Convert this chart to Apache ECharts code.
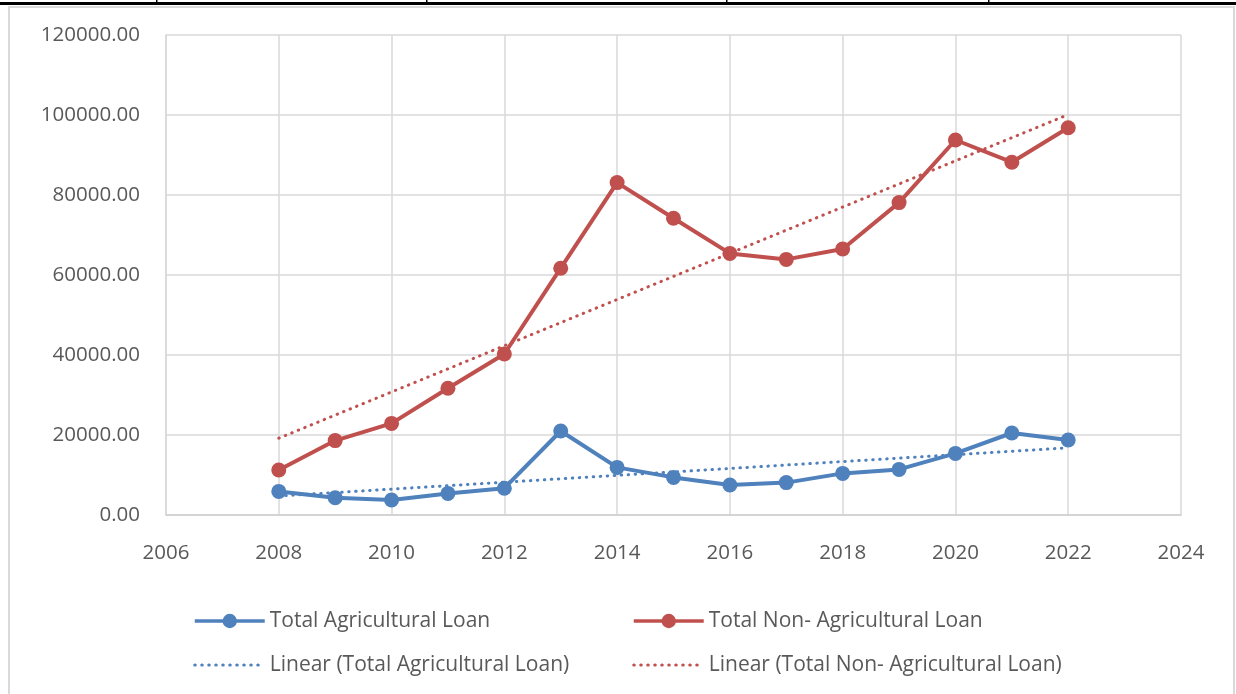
<!DOCTYPE html>
<html>
<head>
<meta charset="utf-8">
<script src="https://cdn.jsdelivr.net/npm/echarts@6/dist/echarts.min.js"></script>
<style>
html,body{margin:0;padding:0;background:#fff;}
#chart{width:1236px;height:694px;}
</style>
</head>
<body>
<div id="chart"></div>
<script>
const years = [2008,2009,2010,2011,2012,2013,2014,2015,2016,2017,2018,2019,2020,2021,2022];
const agriLoan = [5900,4300,3750,5400,6700,21000,11900,9400,7500,8100,10400,11400,15400,20500,18750];
const nonAgriLoan = [11250,18600,22900,31700,40250,61700,83100,74200,65400,63900,66500,78100,93750,88200,96800];
// trendline endpoints (2008 and 2022)
const trendYears = [2008, 2022];
const agriTrend = [4750, 16800];
const nonAgriTrend = [19200, 100100];
const seriesNames = ['Total Agricultural Loan','Total Non- Agricultural Loan','Linear (Total Agricultural Loan)','Linear (Total Non- Agricultural Loan)'];

const BLUE = '#4f81bd', RED = '#c0504d';
const FONT = 'Open Sans';
const pair = (xs, ys) => xs.map((x, i) => [x, ys[i]]);

const legendText = {color: '#595959', fontSize: 21, fontFamily: FONT, lineHeight: 22};
const legendBase = {top: 610, padding: 0, orient: 'vertical', itemWidth: 70, itemHeight: 18, itemGap: 22,
  textStyle: legendText, lineStyle: {width: 3.5}};
const chart = echarts.init(document.getElementById('chart'), null, {renderer: 'canvas'});
chart.setOption({
  backgroundColor: '#fff',
  animation: false,
  grid: {left: 166, top: 35, right: 55, bottom: 179, containLabel: false},
  xAxis: {
    type: 'value', min: 2006, max: 2024, interval: 2,
    axisLine: {show: true, lineStyle: {color: '#d0d0d0', width: 1.5}},
    axisTick: {show: false},
    axisLabel: {color: '#595959', fontSize: 20.5, fontFamily: FONT, margin: 28, formatter: v => String(v)},
    splitLine: {show: true, lineStyle: {color: '#d9d9d9', width: 1.5}}
  },
  yAxis: {
    type: 'value', min: 0, max: 120000, interval: 20000,
    axisLine: {show: true, lineStyle: {color: '#d9d9d9', width: 1.5}},
    axisTick: {show: false},
    axisLabel: {color: '#595959', fontSize: 20.5, fontFamily: FONT, margin: 26,
      formatter: v => v.toFixed(2)},
    splitLine: {show: true, lineStyle: {color: '#d9d9d9', width: 1.5}}
  },
  legend: [
    Object.assign({left: 193, data: [seriesNames[0], {name: seriesNames[2], itemStyle: {opacity: 0}, lineStyle: {width: 3}}]}, legendBase),
    Object.assign({left: 632, data: [seriesNames[1], {name: seriesNames[3], itemStyle: {opacity: 0}, lineStyle: {width: 3}}]}, legendBase)
  ],
  graphic: [
    {type: 'rect', shape: {x: 9, y: 7, width: 1225, height: 700},
     style: {fill: null, stroke: '#d9d9d9', lineWidth: 2}, silent: true},
    {type: 'rect', shape: {x: 0, y: 2, width: 1236, height: 3}, style: {fill: '#000'}, silent: true},
    {type: 'rect', shape: {x: 156, y: 0, width: 1.5, height: 3}, style: {fill: '#000'}, silent: true},
    {type: 'rect', shape: {x: 426, y: 0, width: 1.5, height: 3}, style: {fill: '#000'}, silent: true},
    {type: 'rect', shape: {x: 726, y: 0, width: 1.5, height: 3}, style: {fill: '#000'}, silent: true},
    {type: 'rect', shape: {x: 988, y: 0, width: 1.5, height: 3}, style: {fill: '#000'}, silent: true}
  ],
  series: [
    {name: seriesNames[2], type: 'line', data: pair(trendYears, agriTrend), symbol: 'none',
     lineStyle: {color: BLUE, width: 3, type: [0.5, 6.5], cap: 'round'}, itemStyle: {color: BLUE}, z: 1},
    {name: seriesNames[3], type: 'line', data: pair(trendYears, nonAgriTrend), symbol: 'none',
     lineStyle: {color: RED, width: 3, type: [0.5, 6.5], cap: 'round'}, itemStyle: {color: RED}, z: 1},
    {name: seriesNames[0], type: 'line', data: pair(years, agriLoan), symbol: 'circle', symbolSize: 15,
     lineStyle: {color: BLUE, width: 4}, itemStyle: {color: BLUE}, z: 3},
    {name: seriesNames[1], type: 'line', data: pair(years, nonAgriLoan), symbol: 'circle', symbolSize: 15,
     lineStyle: {color: RED, width: 4}, itemStyle: {color: RED}, z: 3}
  ]
});
</script>
</body>
</html>
